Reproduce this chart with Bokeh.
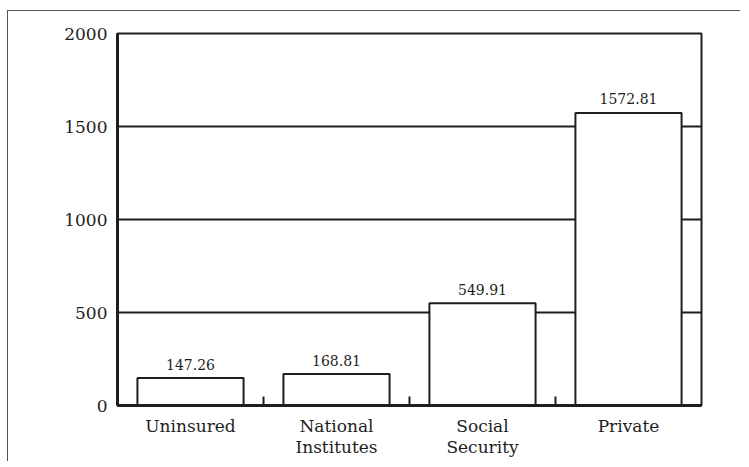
from bokeh.plotting import figure
from bokeh.models import Range1d, FixedTicker, ColumnDataSource
from bokeh.embed import file_html
from bokeh.resources import INLINE
from bokeh.core.properties import value

categories = ["Uninsured", "National\nInstitutes", "Social\nSecurity", "Private"]
values = [147.26, 168.81, 549.91, 1572.81]
value_labels = ["147.26", "168.81", "549.91", "1572.81"]
y_ticks = [0, 500, 1000, 1500, 2000]

n = len(categories)
centers = [i + 0.5 for i in range(n)]
boundaries = list(range(1, n))

FONT = "DejaVu Serif"
INK = "#1e1e1e"

p = figure(width=733, height=451, output_backend="svg", toolbar_location=None,
           x_range=Range1d(0, n), y_range=Range1d(0, 2000),
           min_border_left=109, min_border_right=40, min_border_top=22, min_border_bottom=57)
p.styles = {"border-top": "1px solid #555555", "border-left": "1px solid #555555",
            "margin-top": "10px", "margin-left": "7px"}

src = ColumnDataSource(dict(x=centers, top=values, lab=value_labels))
p.vbar(x="x", top="top", bottom=0, width=0.727, source=src,
       fill_color="white", line_color=INK, line_width=2)
p.text(x="x", y="top", text="lab", source=src, text_align="center",
       text_baseline="alphabetic", y_offset=-14, text_font=value(FONT),
       text_font_size="14px", text_color=INK)

p.xgrid.visible = False
p.ygrid.ticker = FixedTicker(ticks=y_ticks)
p.ygrid.grid_line_color = INK
p.ygrid.grid_line_width = 2

p.outline_line_color = INK
p.outline_line_width = 2

xa = p.xaxis[0]
xa.ticker = FixedTicker(ticks=centers, minor_ticks=boundaries)
xa.major_label_overrides = {c: lab for c, lab in zip(centers, categories)}
xa.major_tick_in = 0
xa.major_tick_out = 0
xa.minor_tick_in = 9
xa.minor_tick_out = 0
xa.minor_tick_line_width = 2
xa.minor_tick_line_color = INK
xa.axis_line_width = 3
xa.axis_line_color = INK
xa.major_label_text_font = FONT
xa.major_label_text_font_size = "17px"
xa.major_label_text_color = INK
xa.major_label_text_line_height = 1.05
xa.major_label_standoff = 10

ya = p.yaxis[0]
ya.ticker = FixedTicker(ticks=y_ticks)
ya.major_tick_in = 0
ya.major_tick_out = 0
ya.minor_tick_in = 0
ya.minor_tick_out = 0
ya.axis_line_width = 3
ya.axis_line_color = INK
ya.major_label_text_font = FONT
ya.major_label_text_font_size = "17px"
ya.major_label_text_color = INK
ya.major_label_standoff = 10

open("out.html", "w").write(file_html(p, INLINE))
